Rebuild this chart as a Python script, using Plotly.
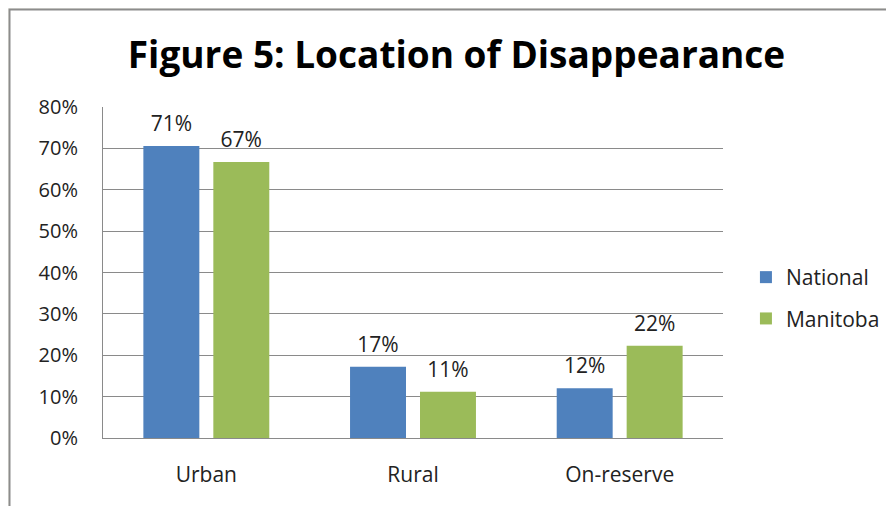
import plotly.graph_objects as go

categories = ["Urban", "Rural", "On-reserve"]
national = [0.706, 0.172, 0.120]
manitoba = [0.667, 0.112, 0.223]
series_names = ["National", "Manitoba"]
colors = ["#4F81BD", "#9BBB59"]
y_ticks = [0, 0.1, 0.2, 0.3, 0.4, 0.5, 0.6, 0.7, 0.8]
title_text = "Figure 5: Location of Disappearance"

FONT = "Open Sans"
fig = go.Figure()
for i, (name, vals) in enumerate(zip(series_names, [national, manitoba])):
    fig.add_trace(go.Bar(
        x=categories, y=vals, name=name, marker_color=colors[i],
        marker_line_width=0, offsetgroup=str(i), legendgroup=name,
    ))
for i, (name, vals) in enumerate(zip(series_names, [national, manitoba])):
    fig.add_trace(go.Scatter(
        x=categories, y=vals, mode="markers+text", offsetgroup=str(i),
        marker=dict(size=14, opacity=0), text=[f"{v:.0%}" for v in vals],
        textposition="top center", textfont=dict(family=FONT, size=21, color="#222"),
        showlegend=False, hoverinfo="skip", cliponaxis=False,
    ))

fig.update_layout(
    width=894, height=506,
    margin=dict(l=95, r=179, t=99, b=76),
    paper_bgcolor="#F3F3EC", plot_bgcolor="rgba(0,0,0,0)",
    barmode="group", bargap=0.323, bargroupgap=0.2,
    scattermode="group", scattergap=0.323,
    title=dict(text=title_text, x=0.5017, xanchor="center", y=0.907, yanchor="middle",
               font=dict(family=FONT, size=37, color="black", weight="bold")),
    font=dict(family=FONT, color="#222"),
    legend=dict(x=1.037, xanchor="left", y=0.423, yanchor="middle",
                font=dict(family=FONT, size=21, color="#222"), tracegroupgap=11,
                bgcolor="rgba(0,0,0,0)"),
    shapes=[dict(type="rect", xref="paper", yref="paper", x0=-0.1508, x1=1.4,
                 y0=-0.4, y1=1.2946, line=dict(color="#8C8C8C", width=2),
                 fillcolor="white", layer="below")],
)
fig.update_yaxes(range=[0, 0.8], tickvals=y_ticks, tickformat=".0%",
                 showgrid=True, gridcolor="#8A8A8A", gridwidth=1,
                 showline=True, linecolor="#8A8A8A", linewidth=1, zeroline=False,
                 ticks="", ticklabelstandoff=20,
                 tickfont=dict(family=FONT, size=20, color="#222"))
fig.update_xaxes(showline=True, linecolor="#8A8A8A", linewidth=1, ticks="",
                 ticklabelstandoff=18, tickfont=dict(family=FONT, size=21, color="#222"))

fig.write_html("out.html")
